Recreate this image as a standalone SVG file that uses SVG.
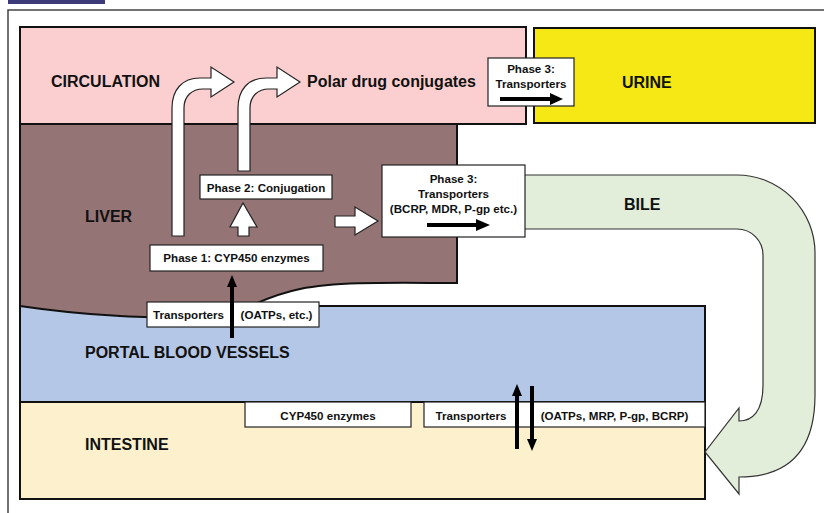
<svg xmlns="http://www.w3.org/2000/svg" width="824" height="513" viewBox="0 0 824 513">
<style>
.region{stroke:#111;stroke-width:2}
.box{fill:#fff;stroke:#222;stroke-width:1.2}
.wa{fill:#fff;stroke:#222;stroke-width:1.2;stroke-linejoin:miter}
.big{font-family:"Liberation Sans",Arial,sans-serif;font-weight:bold;font-size:16px;fill:#111}
.sm{font-family:"Liberation Sans",Arial,sans-serif;font-weight:bold;font-size:11.6px;fill:#111}
.ln{stroke:#000;stroke-width:4;fill:none}
.hd{fill:#000}
</style>
<rect width="824" height="513" fill="#fff"/>
<rect x="8" y="0" width="97" height="4" fill="#3c3a78"/>
<path d="M8,513 V10 H824" fill="none" stroke="#444" stroke-width="1.5"/>

<g id="portal">
<rect class="region" x="20" y="306" width="685" height="96" fill="#b4c7e6"/>
<text class="big" x="85" y="358">PORTAL BLOOD VESSELS</text>
</g>
<g id="intestine">
<rect class="region" x="20" y="402" width="685" height="97" fill="#fdf0cc"/>
<text class="big" x="85" y="450">INTESTINE</text>
</g>
<g id="liver">
<path class="region" d="M20,124 H457 V283 C400,283 340,281 300,289 C270,295 255,305 235,312 C200,320 160,318 120,316 C80,314 40,309 20,306 Z" fill="#957476"/>
<text class="big" x="85" y="222">LIVER</text>
</g>
<g id="circulation">
<rect class="region" x="20" y="27" width="506" height="97" fill="#fbcfcf"/>
<text class="big" x="51" y="87">CIRCULATION</text>
<text class="big" x="307" y="87">Polar drug conjugates</text>
</g>
<g id="urine">
<rect class="region" x="534" y="28" width="281" height="95" fill="#f5e814"/>
<text class="big" x="622" y="88">URINE</text>
</g>
<g id="bile">
<path d="M520,175 H737 A78,78 0 0 1 815,253 V395 C815,450 790,477 739,477 V494 L705,452 L739,408 V421 C752,421 763,412 763,385 V255 A26,26 0 0 0 737,229 H520 Z" fill="#e2eed9" stroke="#333" stroke-width="1.2"/>
<text class="big" x="624" y="210">BILE</text>
</g>

<g id="phase3-urine">
<rect class="box" x="488" y="58" width="86" height="48"/>
<text class="sm" x="531" y="73" text-anchor="middle">Phase 3:</text>
<text class="sm" x="531" y="88" text-anchor="middle">Transporters</text>
</g>
<g id="phase3-liver">
<rect class="box" x="382" y="165" width="143" height="72"/>
<text class="sm" x="453.5" y="183" text-anchor="middle">Phase 3:</text>
<text class="sm" x="453.5" y="198" text-anchor="middle">Transporters</text>
<text class="sm" x="453.5" y="213" text-anchor="middle">(BCRP, MDR, P-gp etc.)</text>
</g>
<g id="phase2">
<rect class="box" x="200" y="175" width="132" height="24"/>
<text class="sm" x="266" y="192" text-anchor="middle">Phase 2: Conjugation</text>
</g>
<g id="phase1">
<rect class="box" x="150" y="245" width="173" height="26"/>
<text class="sm" x="236.5" y="262" text-anchor="middle">Phase 1: CYP450 enzymes</text>
</g>
<g id="liver-transporters">
<rect class="box" x="147" y="302" width="172" height="25"/>
<text class="sm" x="188.5" y="319" text-anchor="middle">Transporters</text>
<text class="sm" x="276.5" y="319" text-anchor="middle">(OATPs, etc.)</text>
</g>
<g id="intestine-cyp">
<rect class="box" x="245" y="402" width="166" height="25"/>
<text class="sm" x="328" y="420" text-anchor="middle">CYP450 enzymes</text>
</g>
<g id="intestine-transporters">
<rect class="box" x="424" y="402" width="281" height="25"/>
<text class="sm" x="471" y="420" text-anchor="middle">Transporters</text>
<text class="sm" x="614.5" y="420" text-anchor="middle">(OATPs, MRP, P-gp, BCRP)</text>
</g>

<g id="connectors">
<path class="wa" d="M172,236 V108 C172,90 182,78 200,78 H211 V67 L234,82 L211,97 V89 H203 C192,89 184,96 184,108 V236 Z"/>
<path class="wa" d="M238,171 V108 C238,90 248,78 266,78 H277 V67 L300,82 L277,97 V89 H269 C258,89 250,96 250,108 V171 Z"/>
<path class="wa" d="M238,236 V227 H230 L243,203 L257,227 H249 V236 Z"/>
<path class="wa" d="M335,216 H355 V207 L378,221 L355,235 V227 H335 Z"/>
<line class="ln" x1="427" y1="225" x2="478" y2="225"/>
<polygon class="hd" points="476,219 490,225 476,231"/>
<line class="ln" x1="500" y1="99" x2="552" y2="99"/>
<polygon class="hd" points="550,93 563,99 550,105"/>
<line class="ln" x1="232" y1="338" x2="232" y2="285"/>
<polygon class="hd" points="227,287 232,275 237,287"/>
<line class="ln" x1="517" y1="449" x2="517" y2="395"/>
<polygon class="hd" points="512,396 517,384 522,396"/>
<line class="ln" x1="532" y1="386" x2="532" y2="440"/>
<polygon class="hd" points="527,439 532,451 537,439"/>
</g>
</svg>
